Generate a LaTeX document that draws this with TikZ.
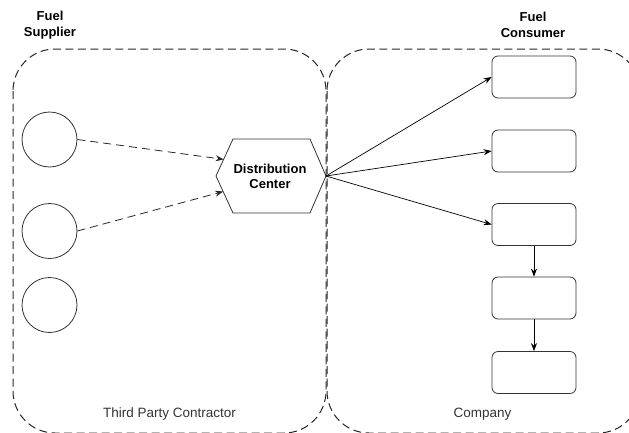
\documentclass[tikz,border=0pt]{standalone}
\usepackage{fontspec}
\setmainfont{Liberation Sans}
\usetikzlibrary{arrows.meta,calc}
\begin{document}
\begin{tikzpicture}[x=1pt,y=-1pt,
  container/.style={draw=black!85, line width=1pt, dash pattern=on 8pt off 4.5pt, rounded corners=42pt},
  supplier/.style={circle, draw=black!80, line width=0.8pt, minimum size=55pt, inner sep=0pt},
  consumer/.style={draw=black!80, line width=0.8pt, rounded corners=6pt, minimum width=84pt, minimum height=42pt, inner sep=0pt},
  hexline/.style={draw=black!80, line width=0.8pt, line join=miter},
  heading/.style={font=\bfseries\fontsize{13}{15.5}\selectfont, align=center},
  caption/.style={text=black!80, font=\fontsize{13.5}{16}\selectfont, anchor=base},
  flow/.style={-{Stealth[length=8pt,width=6pt]}, line width=0.7pt},
  dflow/.style={flow, draw=black!85, line width=0.8pt, dash pattern=on 8pt off 5pt}]
\useasboundingbox (0,0) rectangle (629,432);
\clip (0,0) rectangle (629,432);
% containers
\draw[container] (13,49) rectangle (326,433);
\draw[container] (327,49) rectangle (640,433);
% headings
\node[heading] (hsup) at (50,25) {Fuel\\Supplier};
\node[heading] (hcon) at (533,25) {Fuel\\Consumer};
% captions
\node[caption] (ctp) at (169.5,417) {Third Party Contractor};
\node[caption] (ccomp) at (482.5,417) {Company};
% suppliers
\node[supplier] (s1) at (49.5,139.5) {};
\node[supplier] (s2) at (49.5,231) {};
\node[supplier] (s3) at (49.5,305) {};
% consumers
\node[consumer] (r1) at (534,77) {};
\node[consumer] (r2) at (534,151) {};
\node[consumer] (r3) at (534,224.5) {};
\node[consumer] (r4) at (534,298) {};
\node[consumer] (r5) at (534,372.5) {};
% distribution center
\node[heading] (dc) at (270,176.5) {Distribution\\Center};
\coordinate (hL) at (216,176);
\coordinate (hTL) at (233,139);
\coordinate (hTR) at (310,139);
\coordinate (hR) at (326,176);
\coordinate (hBR) at (310,213);
\coordinate (hBL) at (233,213);
\draw[hexline] (hL) -- (hTL) -- (hTR) -- (hR) -- (hBR) -- (hBL) -- cycle;
\coordinate (hA) at ($(hL)!0.45!(hTL)$);
\coordinate (hB) at ($(hL)!0.42!(hBL)$);
% connectors
\draw[dflow] (s1.east) -- (hA);
\draw[dflow] (s2.east) -- (hB);
\draw[flow] (hR) -- (r1.west);
\draw[flow] (hR) -- (r2.west);
\draw[flow] (hR) -- (r3.west);
\draw[flow] (r3.south) -- (r4.north);
\draw[flow] (r4.south) -- (r5.north);
\end{tikzpicture}
\end{document}
